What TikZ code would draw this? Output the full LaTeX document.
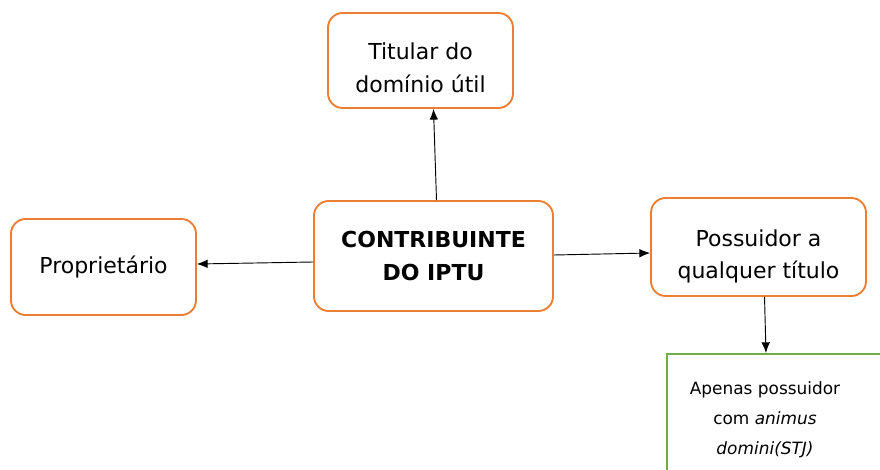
\documentclass[tikz,border=0pt]{standalone}
\usepackage{fontspec}
\setmainfont{DejaVu Sans}
\usetikzlibrary{calc,arrows.meta}
\definecolor{laranja}{RGB}{237,125,49}
\definecolor{verde}{RGB}{112,173,71}
\tikzstyle{caixa} = [rectangle, rounded corners=11pt, draw=laranja, line width=1.4pt, align=center, text centered, font=\fontsize{16.5}{25}\selectfont]
\tikzstyle{caixaverde} = [rectangle, draw=verde, line width=1.4pt]
\tikzstyle{arrow} = [line width=0.7pt,-{Latex[length=8pt,width=6.5pt]}]
\newcommand{\desce}[1]{\rule{0pt}{#1}}

\begin{document}
\begin{tikzpicture}[x=0.75pt, y=-0.75pt]
	\useasboundingbox (0,0) rectangle (880,470);
	\node (titular) at (420.5, 60.5) [caixa, minimum width=138.75pt, minimum height=71.25pt] {\desce{23pt}Titular do\\domínio útil};
	\node (proprietario) at (103.5, 267) [caixa, minimum width=138.75pt, minimum height=72pt] {Proprietário};
	\node (contribuinte) at (433.5, 256) [caixa, minimum width=179.25pt, minimum height=82.5pt, font=\fontsize{16.5}{25}\selectfont\bfseries] {CONTRIBUINTE\\DO IPTU};
	\node (possuidor) at (758.5, 247) [caixa, minimum width=161.25pt, minimum height=73.5pt, font=\fontsize{16.5}{24}\selectfont] {\desce{26.5pt}Possuidor a\\qualquer título};
	\begin{scope}
		\clip (0,0) rectangle (880,470);
		\node (apenas) at (666, 353) [caixaverde, anchor=north west, minimum width=195pt, minimum height=120pt] {};
	\end{scope}
	\node (apenastexto) at (765, 420) [align=center, font=\fontsize{12.7}{22.5}\selectfont] {Apenas possuidor\\com \textit{animus}\\\textit{domini(STJ)}};
	\draw[arrow] ($(contribuinte.north)+(3,0)$) -- ($(titular.south)+(13,0)$);
	\draw[arrow] ($(contribuinte.west)+(0,6)$) -- ($(proprietario.east)+(0,-3)$);
	\draw[arrow] ($(contribuinte.east)+(0,-1)$) -- ($(possuidor.west)+(0,6)$);
	\draw[arrow] ($(possuidor.south)+(6,0)$) -- ($(apenas.north west)+(100,0)$);
\end{tikzpicture}
\end{document}
